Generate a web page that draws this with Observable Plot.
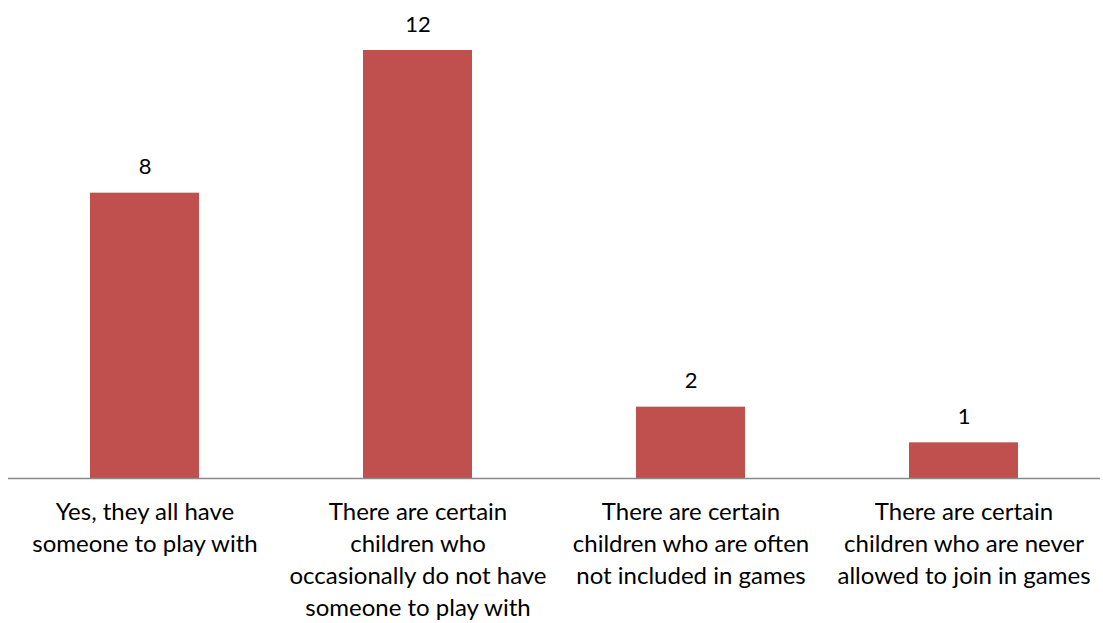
<!DOCTYPE html>
<html>
<head>
<meta charset="utf-8">
<script src="https://cdn.jsdelivr.net/npm/d3@7"></script>
<script src="https://cdn.jsdelivr.net/npm/@observablehq/plot@0.6"></script>
<style>
  html, body { margin: 0; padding: 0; background: #fff; }
  #chart svg { display: block; }
</style>
</head>
<body>
<div id="chart"></div>
<script>
const categories = [
  "Yes, they all have\nsomeone to play with",
  "There are certain\nchildren who\noccasionally do not have\nsomeone to play with",
  "There are certain\nchildren who are often\nnot included in games",
  "There are certain\nchildren who are never\nallowed to join in games"
];
const values = [8, 12, 2, 1];

const data = categories.map((c, i) => ({category: c, value: values[i]}));

const chart = Plot.plot({
  width: 1103,
  height: 623,
  marginTop: 50,
  marginBottom: 145,
  marginLeft: 8,
  marginRight: 3,
  style: {fontFamily: "Lato, 'Open Sans', sans-serif", background: "#fff"},
  x: {domain: categories, paddingInner: 0.6, paddingOuter: 0.3, axis: null},
  y: {domain: [0, 12], axis: null},
  marks: [
    Plot.barY(data, {x: "category", y: "value", fill: "#C0504D"}),
    Plot.ruleY([0], {stroke: "#898989", strokeWidth: 1.5}),
    Plot.text(data, {x: "category", y: "value", text: d => String(d.value), dy: -26, fontSize: 22, fill: "#000"}),
    Plot.text(data, {x: "category", text: "category", frameAnchor: "bottom", lineAnchor: "top", dy: 19, fontSize: 24, lineHeight: 1.333, fill: "#000"})
  ]
});
document.getElementById("chart").appendChild(chart);
</script>
</body>
</html>
